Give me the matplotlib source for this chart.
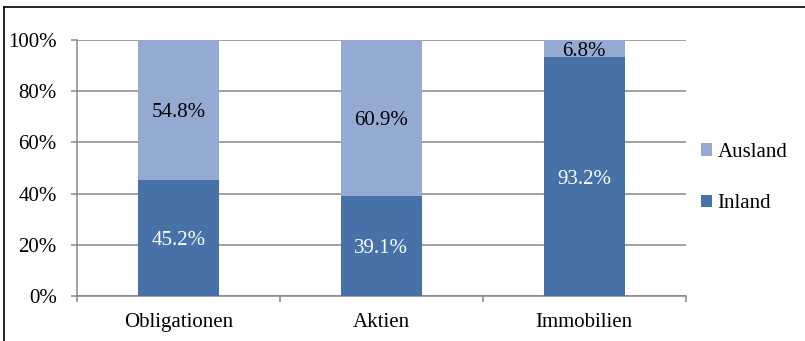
import matplotlib
matplotlib.use("Agg")
import matplotlib.pyplot as plt
from matplotlib.lines import Line2D
from matplotlib.patches import Patch
import numpy as np

categories = ["Obligationen", "Aktien", "Immobilien"]
inland = [45.2, 39.1, 93.2]
ausland = [54.8, 60.9, 6.8]
yticks = [0, 20, 40, 60, 80, 100]
ytick_labels = ["0%", "20%", "40%", "60%", "80%", "100%"]

c_in = "#4672A8"
c_aus = "#94AAD2"
grid_c = "#888888"

plt.rcParams['font.family'] = ['Liberation Serif', 'DejaVu Serif']
FS = 15

fig = plt.figure(figsize=(8.05, 3.41), dpi=100)
ax = fig.add_axes([77/805, 1-296/341, (685.5-77)/805, (296-40)/341])

x = np.arange(len(categories))
w = 0.4
b1 = ax.bar(x, inland, w, color=c_in, zorder=3, label="Inland")
b2 = ax.bar(x, ausland, w, bottom=inland, color=c_aus, zorder=3, label="Ausland")

for i in range(len(categories)):
    ax.text(x[i], inland[i]/2, f"{inland[i]:.1f}%", ha='center', va='center_baseline',
            color='white', fontsize=FS, zorder=4)
    ax.text(x[i], inland[i] + ausland[i]/2, f"{ausland[i]:.1f}%", ha='center',
            va='center_baseline', color='black', fontsize=FS, zorder=4)

ax.set_xlim(-0.5, len(categories)-0.5)
ax.set_ylim(0, 100)
ax.set_yticks(yticks)
ax.set_yticklabels(ytick_labels, fontsize=FS)
ax.set_xticks(x)
ax.set_xticklabels(categories, fontsize=FS)
ax.set_xticks(np.arange(len(categories)+1) - 0.5, minor=True)
ax.tick_params(axis='x', which='major', length=0, pad=12)
ax.tick_params(axis='x', which='minor', length=4.5, width=1.1, color=grid_c)
ax.tick_params(axis='y', length=4.5, width=1.1, color=grid_c, pad=10)
ax.yaxis.grid(True, color=grid_c, linewidth=1.1, zorder=0)
ax.set_axisbelow(True)
for s in ['top', 'right']:
    ax.spines[s].set_visible(False)
for s in ['left', 'bottom']:
    ax.spines[s].set_color(grid_c)
    ax.spines[s].set_linewidth(1.1)

handles = [Patch(facecolor=c_aus, edgecolor='none', label="Ausland"),
           Patch(facecolor=c_in, edgecolor='none', label="Inland")]
fig.legend(handles=handles, loc='center left', bbox_to_anchor=(701/805, 1-178/341),
           frameon=False, fontsize=FS, handlelength=0.55, handleheight=0.55,
           handletextpad=0.25, labelspacing=1.55, borderpad=0, borderaxespad=0)

# figure border (top and left)
fig.add_artist(Line2D([4/805, 1], [1-7/341, 1-7/341], color='black', linewidth=1.2,
                      transform=fig.transFigure))
fig.add_artist(Line2D([4/805, 4/805], [0, 1-7/341], color='black', linewidth=1.2,
                      transform=fig.transFigure))

fig.savefig("out.png", dpi=100)
